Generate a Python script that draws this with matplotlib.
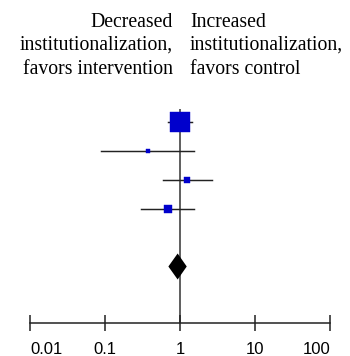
import matplotlib
matplotlib.use("Agg")
import matplotlib.pyplot as plt
import numpy as np

# Study estimates (odds ratios)
study_or = [1.00, 0.37, 1.25, 0.69]
study_lo = [0.69, 0.089, 0.60, 0.305]
study_hi = [1.45, 1.54, 2.65, 1.55]
study_weight = [75.4, 4.2, 9.4, 11.0]
pooled_or = 0.93
pooled_lo = 0.70
pooled_hi = 1.23
tick_values = [0.01, 0.1, 1, 10, 100]
tick_labels = ["0.01", "0.1", "1", "10", "100"]
left_header = ["Decreased", "institutionalization,", "favors intervention"]
right_header = ["Increased", "institutionalization,", "favors control"]

W, H = 350, 356
fig = plt.figure(figsize=(W / 100, H / 100), dpi=100)
# axes: x from px 30 to 330, y from px 100 to 323 (top origin)
ax = fig.add_axes([30 / W, (H - 323) / H, 300 / W, (323 - 100) / H])
ax.set_xscale("log")
ax.set_xlim(0.01, 100)

rows = [1, 2, 3, 4]
pooled_row = 6
px_per_row = 29.0
top_row = 1 - 21.5 / px_per_row
bottom_row = 1 + 201.5 / px_per_row
ax.set_ylim(bottom_row, top_row)

# line of no effect
ax.plot([1, 1], [1 - 12.5 / px_per_row, bottom_row], color="#333333", lw=1.1,
        zorder=1, solid_capstyle="butt")

k = 13.7 / np.sqrt(75.4)
for r, o, lo, hi, w in zip(rows, study_or, study_lo, study_hi, study_weight):
    ax.plot([lo, hi], [r, r], color="#222222", lw=1.05, zorder=2)
    ax.plot([o], [r], marker="s", ms=k * np.sqrt(w), color="#0000cc",
            mec="#0000cc", mew=0.3, zorder=3, linestyle="none")

# pooled diamond
dh = 13.0 / px_per_row
ax.fill([pooled_lo, pooled_or, pooled_hi, pooled_or],
        [pooled_row, pooled_row - dh, pooled_row, pooled_row + dh],
        color="black", zorder=4, lw=0)

for s in ["top", "left", "right"]:
    ax.spines[s].set_visible(False)
ax.spines["bottom"].set_linewidth(1.1)
ax.spines["bottom"].set_color("#222222")
ax.set_yticks([])
ax.set_xticks(tick_values)
ax.set_xticklabels(tick_labels, fontfamily="Liberation Sans", fontsize=12)
ax.xaxis.set_minor_locator(matplotlib.ticker.NullLocator())
ax.tick_params(axis="x", direction="inout", length=11.5, width=1.1,
               color="#222222", pad=8)
labels = ax.get_xticklabels()
labels[0].set_horizontalalignment("left")
labels[-1].set_horizontalalignment("right")

baselines = [27, 50, 74]
for txt, b in zip(left_header, baselines):
    fig.text(173 / W, 1 - b / H, txt, ha="right", va="baseline",
             fontfamily="Liberation Serif", fontsize=14.2)
for txt, b in zip(right_header, baselines):
    fig.text(190 / W, 1 - b / H, txt, ha="left", va="baseline",
             fontfamily="Liberation Serif", fontsize=14.2)

fig.savefig("out.png", dpi=100)
